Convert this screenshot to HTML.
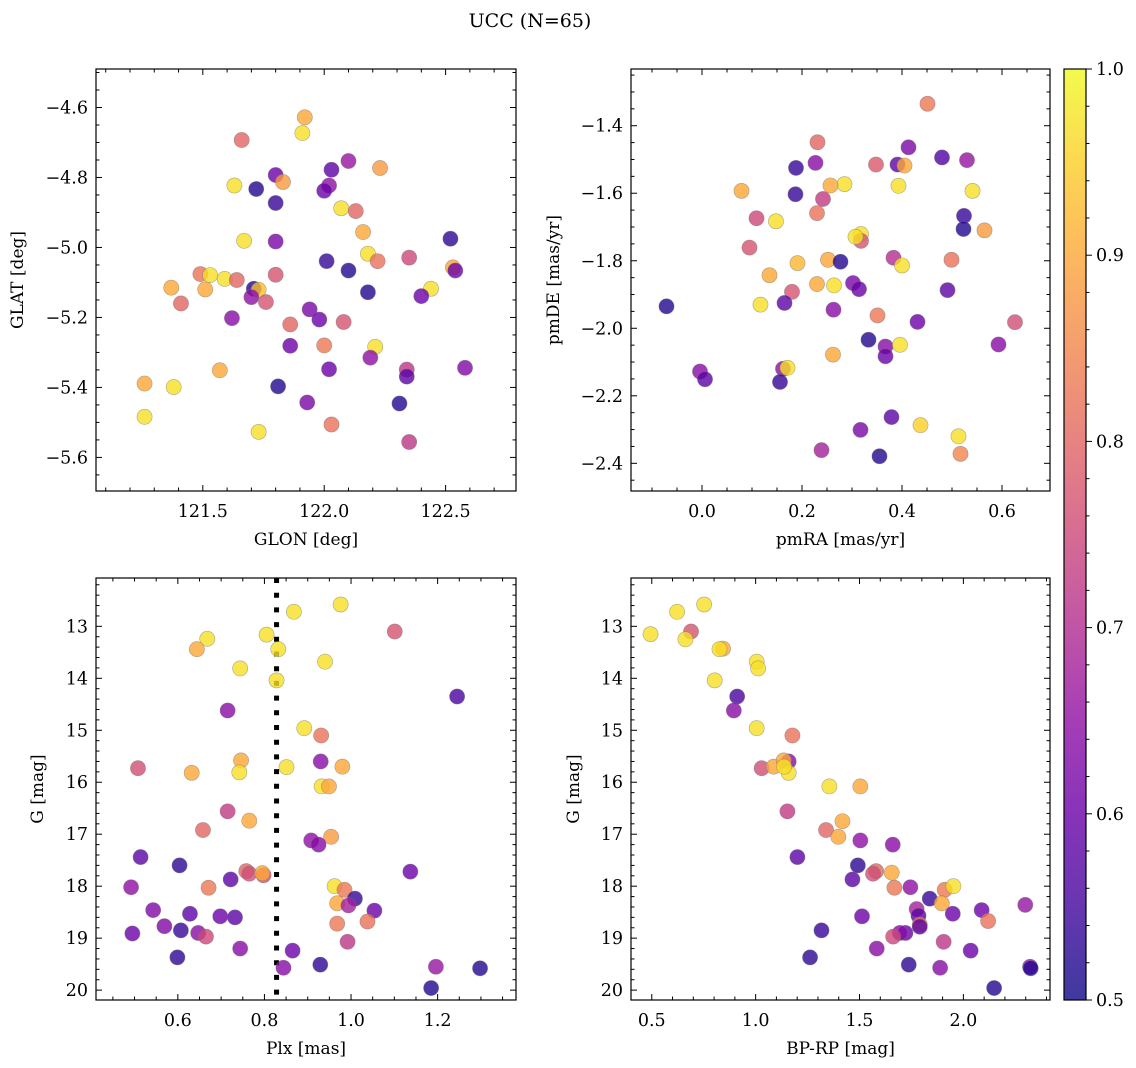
<!DOCTYPE html>
<html><head><meta charset="utf-8">
<style>
html,body{margin:0;padding:0;background:#fff;}
svg{display:block;font-family:"DejaVu Serif","Liberation Serif",serif;}
</style></head>
<body>
<svg id="fig" width="1136" height="1068" viewBox="0 0 1136 1068" xmlns="http://www.w3.org/2000/svg">
<text x="530" y="27" text-anchor="middle" font-size="19">UCC (N=65)</text>
</svg>
<script>
// ---------- data ----------
const glon = [121.92,121.91,121.66,122.10,122.23,122.03,121.80,121.83,121.63,121.72,122.02,122.00,121.80,122.07,122.13,122.16,121.67,121.80,122.52,122.18,122.22,122.01,122.35,122.10,122.53,122.54,121.49,121.53,121.59,121.64,121.80,121.37,121.51,121.71,121.73,122.18,122.44,121.70,121.41,121.76,122.40,121.94,121.62,121.98,121.86,122.08,121.86,122.00,122.21,122.19,122.02,122.34,122.34,122.58,121.57,121.26,121.38,121.81,121.93,122.31,121.26,121.73,122.03,122.35];
const glat = [-4.628,-4.673,-4.693,-4.753,-4.773,-4.778,-4.793,-4.813,-4.823,-4.833,-4.823,-4.838,-4.873,-4.888,-4.896,-4.956,-4.981,-4.983,-4.975,-5.018,-5.039,-5.039,-5.029,-5.066,-5.057,-5.066,-5.076,-5.079,-5.090,-5.093,-5.078,-5.115,-5.120,-5.118,-5.121,-5.128,-5.118,-5.142,-5.160,-5.156,-5.139,-5.177,-5.202,-5.206,-5.220,-5.213,-5.281,-5.280,-5.284,-5.315,-5.348,-5.349,-5.369,-5.344,-5.351,-5.389,-5.399,-5.397,-5.443,-5.446,-5.484,-5.527,-5.506,-5.556];
const prob1 = [0.9,0.97,0.8,0.66,0.88,0.58,0.6,0.88,0.97,0.52,0.65,0.6,0.54,0.97,0.8,0.9,0.97,0.62,0.53,0.97,0.82,0.54,0.75,0.52,0.9,0.6,0.82,0.97,0.97,0.8,0.77,0.9,0.9,0.52,0.93,0.52,0.97,0.65,0.8,0.77,0.6,0.62,0.64,0.6,0.8,0.77,0.6,0.83,0.97,0.65,0.6,0.72,0.58,0.63,0.9,0.9,0.97,0.52,0.62,0.52,0.97,0.97,0.82,0.72];

const pmra = [0.451,0.231,0.413,0.48,0.53,0.227,0.348,0.391,0.405,0.188,0.285,0.257,0.393,0.079,0.541,0.187,0.242,0.23,0.524,0.109,0.148,0.523,0.565,0.318,0.318,0.307,0.095,0.252,0.277,0.191,0.383,0.40,0.499,0.135,0.23,0.264,0.302,0.314,0.18,0.491,0.117,0.165,-0.071,0.263,0.351,0.431,0.626,0.333,0.367,0.396,0.593,0.367,0.262,-0.004,0.006,0.162,0.171,0.156,0.379,0.317,0.437,0.513,0.239,0.355,0.517];
const pmde = [-1.335,-1.449,-1.464,-1.494,-1.502,-1.51,-1.515,-1.515,-1.518,-1.525,-1.573,-1.577,-1.578,-1.593,-1.593,-1.603,-1.617,-1.659,-1.667,-1.674,-1.683,-1.706,-1.71,-1.721,-1.741,-1.729,-1.761,-1.797,-1.803,-1.807,-1.791,-1.814,-1.797,-1.843,-1.869,-1.873,-1.866,-1.884,-1.892,-1.887,-1.93,-1.925,-1.935,-1.945,-1.962,-1.981,-1.982,-2.034,-2.054,-2.049,-2.048,-2.083,-2.078,-2.128,-2.151,-2.12,-2.117,-2.159,-2.263,-2.301,-2.287,-2.32,-2.361,-2.379,-2.372];
const prob2 = [0.83,0.8,0.62,0.57,0.66,0.64,0.78,0.58,0.9,0.54,0.97,0.9,0.97,0.9,0.97,0.54,0.73,0.82,0.54,0.75,0.97,0.52,0.88,0.97,0.77,0.97,0.77,0.9,0.52,0.92,0.7,0.97,0.82,0.9,0.9,0.97,0.62,0.6,0.77,0.58,0.97,0.58,0.52,0.64,0.83,0.6,0.76,0.52,0.64,0.97,0.64,0.6,0.9,0.64,0.58,0.65,0.97,0.54,0.58,0.62,0.95,0.97,0.68,0.52,0.85];

const plx = [0.976,0.868,1.101,0.668,0.644,0.805,0.832,0.94,0.744,0.828,1.245,0.715,0.892,0.931,0.508,0.632,0.746,0.742,0.851,0.93,0.98,0.932,0.949,0.715,0.765,0.658,0.954,0.908,0.925,0.514,0.604,1.137,0.758,0.765,0.798,0.795,0.722,0.492,0.671,0.962,0.985,1.009,0.968,0.994,1.054,0.543,0.628,0.698,0.732,0.968,1.038,0.569,0.495,0.607,0.647,0.665,0.992,0.744,0.865,0.599,0.929,0.844,1.196,1.298,1.185];
const gmag3 = [12.58,12.72,13.10,13.24,13.44,13.16,13.44,13.68,13.81,14.04,14.35,14.62,14.96,15.10,15.73,15.82,15.58,15.81,15.71,15.60,15.70,16.08,16.08,16.56,16.74,16.92,17.05,17.12,17.20,17.44,17.60,17.72,17.71,17.76,17.79,17.75,17.87,18.02,18.03,18.0,18.07,18.24,18.33,18.37,18.47,18.46,18.53,18.58,18.60,18.72,18.68,18.77,18.91,18.85,18.90,18.97,19.07,19.20,19.24,19.37,19.51,19.57,19.55,19.58,19.96];
const prob3 = [0.97,0.97,0.77,0.97,0.9,0.97,0.97,0.97,0.97,0.97,0.56,0.64,0.97,0.82,0.76,0.9,0.9,0.97,0.97,0.64,0.9,0.97,0.9,0.73,0.9,0.8,0.88,0.65,0.64,0.58,0.53,0.6,0.8,0.76,0.76,0.9,0.58,0.65,0.83,0.97,0.83,0.54,0.9,0.68,0.6,0.63,0.58,0.6,0.58,0.83,0.82,0.63,0.6,0.54,0.64,0.75,0.72,0.64,0.6,0.53,0.53,0.64,0.66,0.52,0.52];
const plxLine = 0.828;

const bprp = [0.752,0.622,0.494,0.689,0.662,0.843,0.826,1.005,1.012,0.803,0.911,0.895,1.005,1.177,1.029,1.087,1.159,1.135,1.159,1.137,1.355,1.504,1.153,1.418,1.339,1.398,1.504,1.66,1.201,1.492,1.58,1.565,1.655,1.466,1.745,1.668,1.91,1.952,1.838,1.896,1.775,1.949,2.088,2.298,1.784,1.512,1.79,2.119,1.79,1.317,1.721,1.694,1.662,1.905,1.583,2.035,1.262,1.737,1.888,2.321,2.324,2.148];
const gmag4 = [12.58,12.72,13.15,13.10,13.25,13.43,13.44,13.68,13.81,14.04,14.35,14.62,14.96,15.10,15.73,15.70,15.60,15.58,15.82,15.70,16.08,16.08,16.56,16.75,16.92,17.05,17.12,17.20,17.44,17.60,17.71,17.76,17.74,17.87,18.02,18.03,18.07,18.0,18.24,18.33,18.44,18.53,18.46,18.36,18.57,18.58,18.74,18.67,18.78,18.85,18.90,18.90,18.97,19.07,19.20,19.24,19.37,19.51,19.57,19.55,19.58,19.96];
const prob4 = [0.97,0.97,0.97,0.77,0.97,0.9,0.97,0.97,0.97,0.97,0.56,0.64,0.97,0.82,0.76,0.9,0.64,0.9,0.97,0.97,0.97,0.9,0.73,0.9,0.8,0.9,0.65,0.64,0.58,0.53,0.8,0.76,0.9,0.58,0.65,0.83,0.83,0.97,0.54,0.9,0.68,0.6,0.6,0.66,0.58,0.6,0.83,0.82,0.58,0.54,0.6,0.64,0.75,0.72,0.64,0.6,0.53,0.53,0.64,0.66,0.52,0.52];

const cbTicks = [0.5,0.6,0.7,0.8,0.9,1.0];

// ---------- helpers ----------
const NS = "http://www.w3.org/2000/svg";
const svg = document.getElementById('fig');
function mk(tag, attrs, parent){ const e=document.createElementNS(NS,tag); for(const k in attrs) e.setAttribute(k,attrs[k]); (parent||svg).appendChild(e); return e; }
const stops=[[13,8,135],[65,4,157],[106,0,168],[143,13,164],[177,42,144],[204,71,120],[225,100,98],[242,132,75],[252,166,54],[252,206,37],[240,249,33]];
function plasma(p){ let t=Math.max(0,Math.min(1,(p-0.5)/0.5))*10; const i=Math.min(9,Math.floor(t)), f=t-i; const a=stops[i], b=stops[i+1]; return `rgb(${a.map((v,k)=>Math.round(v+(b[k]-v)*f)).join(',')})`; }
function fmt(v,d){ return (v<0?'\u2212':'')+Math.abs(v).toFixed(d); }

function panel(cfg){
  const {L,T,R,B,xmin,xmax,ymin,ymax,invert,name} = cfg;
  const sx = v => L + (v-xmin)/(xmax-xmin)*(R-L);
  const sy = invert ? (v => T + (v-ymin)/(ymax-ymin)*(B-T)) : (v => B - (v-ymin)/(ymax-ymin)*(B-T));
  const g = mk('g',{});
  
  
  if (cfg.vline!==undefined){
    const ln = mk('line',{x1:sx(cfg.vline),x2:sx(cfg.vline),y1:T,y2:B,stroke:'#000','stroke-width':5,'stroke-dasharray':'5,9.7'},g);
    
    
  }
  const pts = mk('g',{},g);
  
  
  const n = Math.min(cfg.xs.length, cfg.ys.length, cfg.ps.length);
  for(let i=0;i<n;i++){
    const c = mk('circle',{cx:sx(cfg.xs[i]),cy:sy(cfg.ys[i]),r:7.6,fill:plasma(cfg.ps[i]),'fill-opacity':0.8,stroke:'#777','stroke-opacity':0.6,'stroke-width':0.6},pts);
    
    
  }
  const fr = mk('rect',{x:L,y:T,width:R-L,height:B-T,fill:'none',stroke:'#000','stroke-width':1.2},g);
  
  
  const tk = mk('g',{stroke:'#000','stroke-width':1},g);
  const eps=1e-9;
  for(let v=Math.ceil(xmin/cfg.xminor-eps)*cfg.xminor; v<=xmax+eps; v+=cfg.xminor){
    const x=sx(v); const maj=Math.abs(v/cfg.xmajor-Math.round(v/cfg.xmajor))<1e-6; const len=maj?6:3.5;
    mk('line',{x1:x,x2:x,y1:B,y2:B-len},tk); mk('line',{x1:x,x2:x,y1:T,y2:T+len},tk);
  }
  for(let v=Math.ceil(ymin/cfg.yminor-eps)*cfg.yminor; v<=ymax+eps; v+=cfg.yminor){
    const y=sy(v); const maj=Math.abs(v/cfg.ymajor-Math.round(v/cfg.ymajor))<1e-6; const len=maj?6:3.5;
    mk('line',{x1:L,x2:L+len,y1:y,y2:y},tk); mk('line',{x1:R,x2:R-len,y1:y,y2:y},tk);
  }
  for(const v of cfg.xticks){
    const t = mk('text',{x:sx(v),y:B+26,'text-anchor':'middle','font-size':17.5},g);
    t.textContent = fmt(v,cfg.xdec);
    
    
  }
  for(const v of cfg.yticks){
    const t = mk('text',{x:L-8,y:sy(v)+6,'text-anchor':'end','font-size':17.5},g);
    t.textContent = fmt(v,cfg.ydec);
    
    
  }
  const xl = mk('text',{x:(L+R)/2,y:B+54,'text-anchor':'middle','font-size':17},g);
  xl.textContent = cfg.xlabel;
  
  
  const yx = cfg.ylabelX, yy=(T+B)/2;
  const yl = mk('text',{x:yx,y:yy,'text-anchor':'middle','font-size':17,transform:`rotate(-90 ${yx} ${yy})`},g);
  yl.textContent = cfg.ylabel;
  
  
}

panel({name:'glon-glat',L:96,T:69,R:516,B:491,xmin:121.06,xmax:122.79,ymin:-5.696,ymax:-4.49,
  xs:glon,ys:glat,ps:prob1,xticks:[121.5,122.0,122.5],xdec:1,xmajor:0.5,xminor:0.1,
  yticks:[-5.6,-5.4,-5.2,-5.0,-4.8,-4.6],ydec:1,ymajor:0.2,yminor:0.05,xlabel:'GLON [deg]',ylabel:'GLAT [deg]',ylabelX:23});
panel({name:'pm',L:631,T:69,R:1050,B:491,xmin:-0.142,xmax:0.696,ymin:-2.482,ymax:-1.232,
  xs:pmra,ys:pmde,ps:prob2,xticks:[0.0,0.2,0.4,0.6],xdec:1,xmajor:0.2,xminor:0.05,
  yticks:[-2.4,-2.2,-2.0,-1.8,-1.6,-1.4],ydec:1,ymajor:0.2,yminor:0.05,xlabel:'pmRA [mas/yr]',ylabel:'pmDE [mas/yr]',ylabelX:559});
panel({name:'plx-g',L:96,T:578,R:516,B:1000,xmin:0.411,xmax:1.381,ymin:12.07,ymax:20.19,invert:true,
  xs:plx,ys:gmag3,ps:prob3,vline:plxLine,xticks:[0.6,0.8,1.0,1.2],xdec:1,xmajor:0.2,xminor:0.05,
  yticks:[13,14,15,16,17,18,19,20],ydec:0,ymajor:1,yminor:0.2,xlabel:'Plx [mas]',ylabel:'G [mag]',ylabelX:43});
panel({name:'cmd',L:631,T:578,R:1050,B:1000,xmin:0.4,xmax:2.417,ymin:12.07,ymax:20.19,invert:true,
  xs:bprp,ys:gmag4,ps:prob4,xticks:[0.5,1.0,1.5,2.0],xdec:1,xmajor:0.5,xminor:0.1,
  yticks:[13,14,15,16,17,18,19,20],ydec:0,ymajor:1,yminor:0.2,xlabel:'BP-RP [mag]',ylabel:'G [mag]',ylabelX:579});

// colorbar
(function(){
  const L=1064,R=1086,T=69,B=1000;
  const cb = mk('g',{});
  
  
  const defs = mk('defs',{},cb);
  const lg = mk('linearGradient',{id:'pl',x1:0,y1:1,x2:0,y2:0},defs);
  for(let i=0;i<=10;i++){ mk('stop',{offset:i/10,'stop-color':plasma(0.5+i*0.05),'stop-opacity':0.8},lg); }
  mk('rect',{x:L,y:T,width:R-L,height:B-T,fill:'url(#pl)'},cb);
  mk('rect',{x:L,y:T,width:R-L,height:B-T,fill:'none',stroke:'#000','stroke-width':1.2},cb);
  const sy = v => B - (v-0.5)/0.5*(B-T);
  for(let k=0;k<=25;k++){ const v=0.5+k*0.02; const y=sy(v); const maj=(k%5===0);
    mk('line',{x1:R,x2:R+(maj?6:3.5),y1:y,y2:y,stroke:'#000','stroke-width':1},cb); }
  for(const v of cbTicks){
    const t = mk('text',{x:R+10,y:sy(v)+6,'font-size':17.5},cb);
    t.textContent = v.toFixed(1);
    
    
  }
})();
</script>
</body></html>
